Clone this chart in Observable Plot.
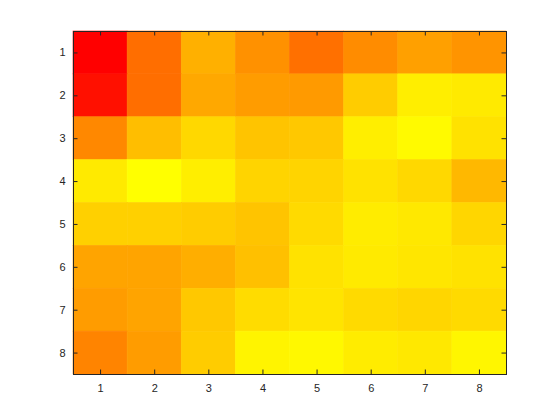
<!DOCTYPE html>
<html>
<head>
<meta charset="utf-8">
<script src="https://cdn.jsdelivr.net/npm/d3@7"></script>
<script src="https://cdn.jsdelivr.net/npm/@observablehq/plot@0.6"></script>
<style>
  html, body { margin: 0; padding: 0; background: #fff; }
  #chart { width: 560px; height: 420px; }
</style>
</head>
<body>
<div id="chart"></div>
<script>
// Column and row labels
const cols = [1, 2, 3, 4, 5, 6, 7, 8];
const rows = [1, 2, 3, 4, 5, 6, 7, 8];

// Matrix values (one array per row)
const row1 = [0, 110, 176, 145, 112, 140, 160, 148];
const row2 = [16, 110, 168, 156, 154, 204, 238, 234];
const row3 = [136, 190, 216, 196, 200, 238, 250, 226];
const row4 = [234, 255, 238, 212, 212, 226, 216, 184];
const row5 = [208, 208, 204, 196, 218, 236, 232, 214];
const row6 = [164, 164, 174, 192, 226, 234, 230, 226];
const row7 = [156, 164, 200, 220, 228, 218, 214, 218];
const row8 = [132, 156, 204, 244, 248, 236, 232, 246];
const matrix = [row1, row2, row3, row4, row5, row6, row7, row8];

const data = [];
rows.forEach((r, i) => cols.forEach((c, j) => data.push({row: r, col: c, value: matrix[i][j]})));

const W = 560, H = 420;
const mL = 73, mR = 54, mT = 31, mB = 46;
const plotH = H - mT - mB;
const plotW = W - mL - mR;
const tick = 4.5;
const ink = "#262626";

const chart = Plot.plot({
  width: W,
  height: H,
  marginLeft: mL,
  marginRight: mR,
  marginTop: mT,
  marginBottom: mB,
  style: {fontFamily: "'Liberation Sans', Arial, Helvetica, sans-serif", fontSize: "11px", color: ink, background: "#fff"},
  x: {type: "band", domain: cols, padding: 0, round: false, label: null},
  y: {type: "band", domain: rows, padding: 0, round: false, label: null},
  color: {type: "linear", domain: [0, 255], range: ["#ff0000", "#ffff00"], interpolate: "rgb"},
  marks: [
    Plot.cell(data, {x: "col", y: "row", fill: "value", stroke: "value", strokeWidth: 0.6, inset: 0}),
    Plot.axisX({anchor: "bottom", tickSize: 0, tickPadding: 10, fill: ink, fontSize: 11}),
    Plot.axisY({anchor: "left", tickSize: 0, tickPadding: 8, fill: ink, fontSize: 11}),
    Plot.tickX(cols, {x: d => d, insetTop: plotH - tick, stroke: ink}),
    Plot.tickX(cols, {x: d => d, insetBottom: plotH - tick, stroke: ink}),
    Plot.tickY(rows, {y: d => d, insetRight: plotW - tick, stroke: ink}),
    Plot.tickY(rows, {y: d => d, insetLeft: plotW - tick, stroke: ink}),
    Plot.frame({stroke: ink, strokeWidth: 1})
  ]
});
document.getElementById("chart").appendChild(chart);
</script>
</body>
</html>
